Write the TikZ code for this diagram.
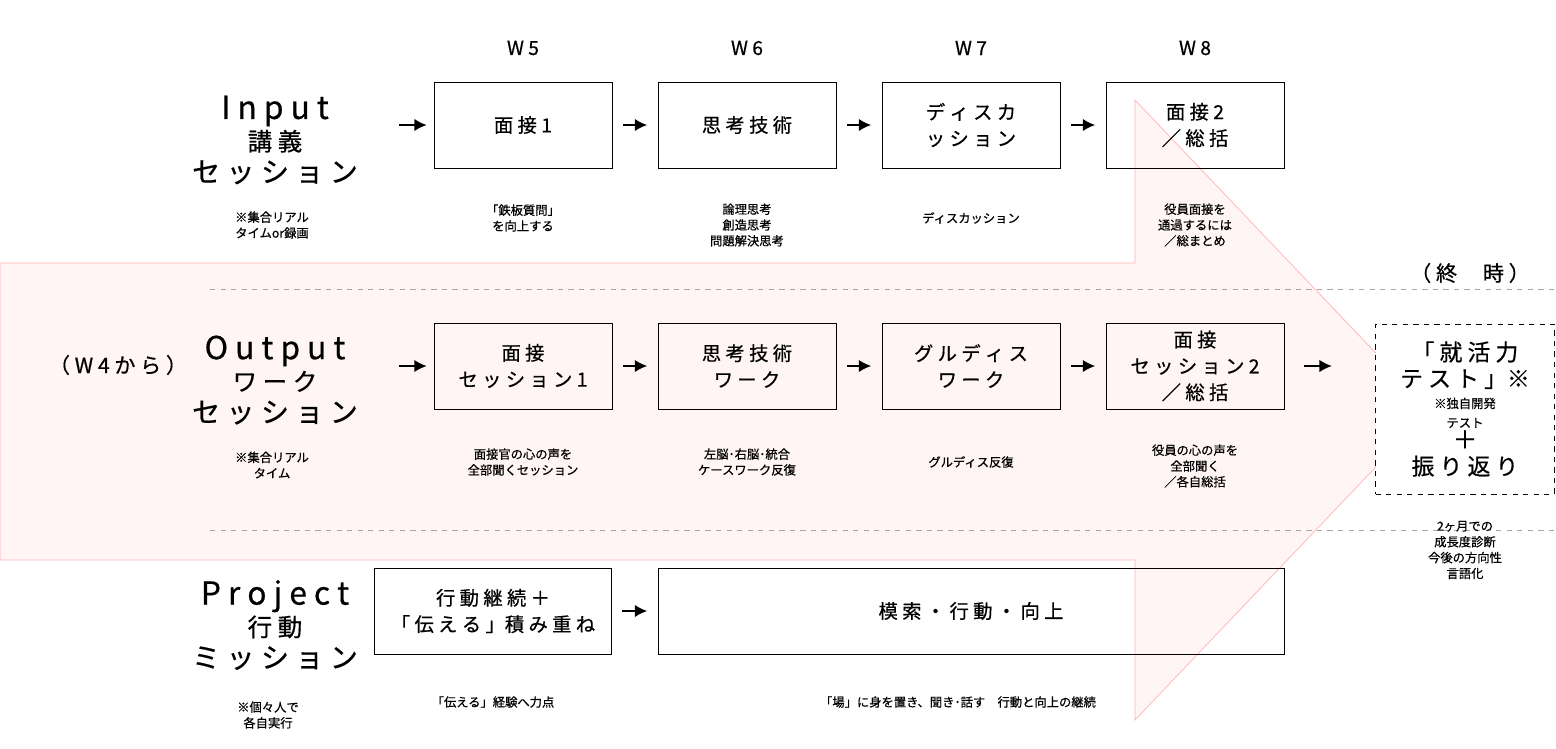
\documentclass[tikz,border=0pt]{standalone}
\usepackage{fontspec}
\setmainfont[FakeBold=0.6]{Noto Sans CJK JP}
\usetikzlibrary{arrows.meta,backgrounds}
\begin{document}
\begin{tikzpicture}[x=0.02cm,y=-0.02cm,
    box/.style={draw, minimum width=3.56cm, minimum height=1.72cm, align=center, font=\fontsize{11}{15}\selectfont},
    head/.style={align=center, font=\fontsize{11}{15}\selectfont},
    big/.style={align=center, font=\fontsize{14}{18}\selectfont},
    note/.style={align=center, font=\fontsize{7}{9}\selectfont},
    arr/.style={-{Latex[length=7pt,width=7pt]}, thick, shorten >=6pt, shorten <=6pt},
    sep/.style={gray!70, dashed}
    ]
    \useasboundingbox (0,0) rectangle (1556,748);

    % big arrow behind
    \begin{scope}[on background layer]
    \draw[red!30, fill=red!4] (0,263) -- (1135,263) -- (1135,100) -- (1430,410)
        -- (1135,720) -- (1135,560) -- (0,560) -- cycle;
    \end{scope}
    \draw[sep] (210,289) -- (1556,289);
    \draw[sep] (210,530) -- (1556,530);

    % weeks
    \foreach \x/\w in {523/5, 747/6, 971/7, 1195/8}
      \node[head] (w\w) at (\x,48) {W \w};

    % row labels
    \node[big] (inp) at (275,140) {{\fontsize{18}{20}\selectfont I n p u t}\\講 義\\{\fontsize{16}{20}\selectfont セ ッ シ ョ ン}};
    \node[note] (inpn) at (272,225) {※集合リアル\\タイムor録画};
    \node[big] (outp) at (275,380) {{\fontsize{18}{20}\selectfont O u t p u t}\\ワ ー ク\\{\fontsize{16}{20}\selectfont セ ッ シ ョ ン}};
    \node[note] (outn) at (272,465) {※集合リアル\\タイム};
    \node[head, font=\fontsize{12}{15}\selectfont] (w4) at (118,365) {（ W 4 か ら ）};
    \node[big] (proj) at (275,625) {{\fontsize{18}{20}\selectfont P r o j e c t}\\行 動\\{\fontsize{16}{20}\selectfont ミ ッ シ ョ ン}};
    \node[note] (projn) at (268,715) {※個々人で\\各自実行};

    % input row
    \node[box] (i1) at (523,125) {面 接 1};
    \node[box] (i2) at (747,125) {思 考 技 術};
    \node[box] (i3) at (971,125) {デ ィ ス カ\\ッ シ ョ ン};
    \node[box] (i4) at (1195,125) {面 接 2\\／ 総 括};
    \node[note] (i1n) at (523,218) {「鉄板質問」\\を向上する};
    \node[note] (i2n) at (747,225) {論理思考\\創造思考\\問題解決思考};
    \node[note] (i3n) at (971,218) {ディスカッション};
    \node[note] (i4n) at (1195,225) {役員面接を\\通過するには\\／総まとめ};

    % output row
    \node[box] (o1) at (523,366) {面 接\\セ ッ シ ョ ン 1};
    \node[box] (o2) at (747,366) {思 考 技 術\\ワ ー ク};
    \node[box] (o3) at (971,366) {グ ル デ ィ ス\\ワ ー ク};
    \node[box] (o4) at (1195,366) {面 接\\セ ッ シ ョ ン 2\\／ 総 括};
    \node[note] (o1n) at (523,462) {面接官の心の声を\\全部聞くセッション};
    \node[note] (o2n) at (747,462) {左脳･右脳･統合\\ケースワーク反復};
    \node[note] (o3n) at (971,462) {グルディス反復};
    \node[note] (o4n) at (1195,466) {役員の心の声を\\全部聞く\\／各自総括};

    % project row
    \node[box, minimum width=4.74cm] (p1) at (493,611) {行 動 継 続 ＋\\「 伝 え る 」積 み 重 ね};
    \node[box, minimum width=12.52cm] (p2) at (971,611) {模 索 ・ 行 動 ・ 向 上};
    \node[note] (p1n) at (493,702) {「伝える」経験へ力点};
    \node[note] (p2n) at (958,702) {「場」に身を置き、聞き･話す　行動と向上の継続};

    % final
    \node[head, font=\fontsize{12}{15}\selectfont] (end) at (1470,273) {（ 終 \quad 時 ）};
    \node[box, dashed, fill=white, minimum width=3.58cm, minimum height=3.4cm] (fin) at (1465,409)
      {\fontsize{13}{16}\selectfont 「 就 活 力\\\fontsize{13}{16}\selectfont テ ス ト 」※\\[-3pt]
       {\fontsize{7}{9}\selectfont ※独自開発}\\[-4pt]{\fontsize{7}{9}\selectfont テスト}\\[-3pt]
       {\fontsize{14}{15}\selectfont ＋}\\\fontsize{13}{16}\selectfont 振 り 返 り};
    \node[note] (finn) at (1465,550) {2ヶ月での\\成長度診断\\今後の方向性\\言語化};

    % arrows
    \foreach \r in {i,o} {
      \draw[arr, shorten <=0pt, shorten >=4pt] ([xshift=-20pt]\r1.west) -- (\r1.west);
      \draw[arr] (\r1) -- (\r2);
      \draw[arr] (\r2) -- (\r3);
      \draw[arr] (\r3) -- (\r4);
    }
    \draw[arr, shorten >=0pt, shorten <=0pt] ([xshift=11pt]o4.east) -- ([xshift=27pt]o4.east);
    \draw[arr] (p1) -- (p2);
\end{tikzpicture}
\end{document}
